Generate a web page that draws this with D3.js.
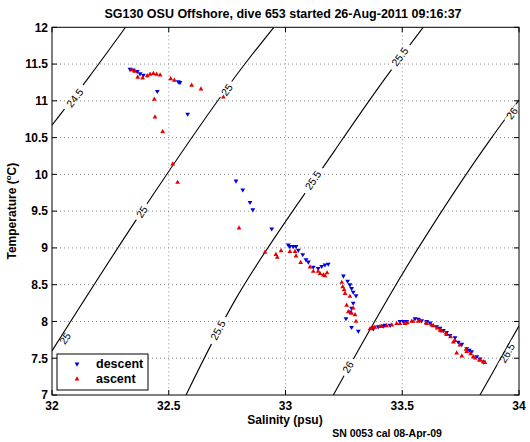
<!DOCTYPE html>
<html><head><meta charset="utf-8">
<script src="https://cdn.jsdelivr.net/npm/d3@7/dist/d3.min.js"></script>
<style>body{margin:0;background:#fff}svg{display:block}text{font-family:"Liberation Sans",Arial,Helvetica,sans-serif}</style>
</head><body><svg id="c" width="530" height="442"></svg>
<script>
const title = "SG130 OSU Offshore, dive 653 started 26\u2010Aug\u20102011 09:16:37";
const xTicks = [32, 32.5, 33, 33.5, 34];
const yTicks = [7, 7.5, 8, 8.5, 9, 9.5, 10, 10.5, 11, 11.5, 12];
const xTickLabels = ["32", "32.5", "33", "33.5", "34"];
const yTickLabels = ["7", "7.5", "8", "8.5", "9", "9.5", "10", "10.5", "11", "11.5", "12"];
const seriesNames = ["descent", "ascent"];
// descent (S, T)
const descentS = [32.334,32.348,32.365,32.377,32.391,32.451,32.541,32.548,32.581,32.788,32.817,32.848,32.860,32.941,33.012,33.019,33.033,33.045,33.055,33.074,33.088,33.098,33.119,33.140,33.155,33.169,33.183,33.248,33.266,33.276,33.283,33.290,33.302,33.290,33.283,33.276,33.259,33.283,33.312,33.376,33.397,33.419,33.448,33.490,33.519,33.555,33.583,33.619,33.647,33.676,33.704,33.726,33.755,33.776,33.797,33.819,33.847,
  33.426,33.505,33.569,33.605,33.662,33.690,33.740,33.787,33.833];
const descentT = [11.43,11.42,11.40,11.37,11.35,11.13,11.26,11.25,10.82,9.91,9.79,9.62,9.52,9.26,9.04,9.02,9.02,9.02,8.97,8.91,8.84,8.81,8.74,8.72,8.75,8.77,8.78,8.62,8.55,8.50,8.45,8.40,8.35,8.25,8.18,8.13,8.04,7.92,7.87,7.90,7.93,7.94,7.95,8.00,8.00,8.04,8.01,7.98,7.93,7.88,7.81,7.78,7.69,7.63,7.59,7.52,7.45,
  7.95,8.00,8.03,8.00,7.91,7.85,7.72,7.61,7.49];
// ascent (S, T)
const ascentS = [32.341,32.355,32.367,32.388,32.408,32.420,32.434,32.448,32.463,32.508,32.524,32.598,32.638,32.734,32.438,32.441,32.474,32.517,32.538,32.801,32.912,32.959,32.965,32.981,33.019,33.041,33.045,33.065,33.105,33.119,33.140,33.148,33.162,33.241,33.245,33.251,33.255,33.262,33.269,33.283,33.298,33.290,33.302,33.276,33.362,33.383,33.405,33.433,33.476,33.512,33.540,33.569,33.605,33.633,33.662,33.690,33.719,33.733,33.755,33.776,33.804,33.833,33.854,
  33.374,33.412,33.455,33.490,33.522,33.547,33.576,33.602,33.626,33.650,33.669,33.687,33.707,33.726,33.747,33.773,33.793,33.812,33.830,33.847,33.169,33.178];
const ascentT = [11.42,11.40,11.32,11.31,11.34,11.36,11.37,11.36,11.35,11.30,11.28,11.21,11.16,11.05,11.02,10.78,10.58,10.14,9.89,9.27,8.94,8.91,8.87,8.96,8.95,8.95,8.89,8.80,8.74,8.68,8.68,8.65,8.63,8.53,8.47,8.43,8.38,8.22,8.13,8.11,8.09,8.18,8.00,8.34,7.90,7.92,7.93,7.94,7.97,7.97,8.00,8.00,7.97,7.94,7.88,7.82,7.72,7.57,7.53,7.59,7.52,7.48,7.44,
  7.92,7.93,7.95,7.97,7.98,8.00,8.01,7.98,7.95,7.91,7.87,7.84,7.79,7.74,7.68,7.62,7.56,7.50,7.47,7.45,8.62,8.66];
// density contours (sigma-theta): [S, T] vertices
const contourLevels = ["24.5", "25", "25.5", "26", "26.5"];
const contour245 = [[32.315,12],[32.16,11.33],[32.0,10.67]];
const contour25 = [[32.95,12],[32.839,11.555],[32.39,9.52],[32.0,7.60]];
const contour255 = [[33.59,12],[33.405,11.21],[33.212,10.33],[32.784,8.29],[32.574,7]];
const contour26 = [[34,11.01],[33.876,10.47],[33.563,8.97],[33.205,7]];
const contour265 = [[34,7.94],[33.833,7]];
// contour label positions [level, S, T]
const labelLevels = ["24.5","25","25.5","25.5","26","25","26","26.5","25","25.5"];
const labelS = [32.098,32.749,33.490,33.118,33.970,32.056,33.268,33.949,32.385,32.711];
const labelT = [11.04,11.15,11.60,9.92,10.83,7.77,7.38,7.57,9.49,7.88];

const svg = d3.select("#c");
const L = 52, T0 = 27.3, W = 467, H = 367.7;
const x = d3.scaleLinear().domain([32, 34]).range([L, L + W]);
const y = d3.scaleLinear().domain([7, 12]).range([T0 + H, T0]);

// grid
const g = svg.append("g");
g.selectAll(".gx").data(xTicks.slice(1, -1)).join("line")
  .attr("x1", d => x(d)).attr("x2", d => x(d)).attr("y1", T0).attr("y2", T0 + H)
  .attr("stroke", "#8c8c8c").attr("stroke-width", 1).attr("stroke-dasharray", "1,3");
g.selectAll(".gy").data(yTicks.slice(1, -1)).join("line")
  .attr("y1", d => y(d)).attr("y2", d => y(d)).attr("x1", L).attr("x2", L + W)
  .attr("stroke", "#8c8c8c").attr("stroke-width", 1).attr("stroke-dasharray", "1,3");

// contours
svg.append("clipPath").attr("id", "pc").append("rect").attr("x", L).attr("y", T0).attr("width", W).attr("height", H);
const line = d3.line().x(d => x(d[0])).y(d => y(d[1])).curve(d3.curveMonotoneY);
const contours = [contour245, contour25, contour255, contour26, contour265];
const cg = svg.append("g").attr("clip-path", "url(#pc)");
cg.selectAll("path").data(contours).join("path")
  .attr("d", d => line([...d].sort((a, b) => a[1] - b[1])))
  .attr("fill", "none").attr("stroke", "#000").attr("stroke-width", 1.1);

// contour labels, rotated along the line
const levelIndex = {"24.5":0, "25":1, "25.5":2, "26":3, "26.5":4};
function angleAt(pts, s, t) {
  let best = 0, bd = 1e9;
  for (let i = 0; i < pts.length - 1; i++) {
    const mx = (x(pts[i][0]) + x(pts[i+1][0])) / 2, my = (y(pts[i][1]) + y(pts[i+1][1])) / 2;
    const dd = (mx - x(s)) ** 2 + (my - y(t)) ** 2;
    if (dd < bd) { bd = dd; best = i; }
  }
  const a = pts[best], b = pts[best + 1];
  let dx = x(b[0]) - x(a[0]), dy = y(b[1]) - y(a[1]);
  if (dx < 0) { dx = -dx; dy = -dy; }
  return Math.atan2(dy, dx) * 180 / Math.PI;
}
const lg = svg.append("g").attr("clip-path", "url(#pc)");
labelLevels.forEach((lv, i) => {
  const pts = contours[levelIndex[lv]];
  const ang = angleAt(pts, labelS[i], labelT[i]);
  const gg = lg.append("g").attr("transform", `translate(${x(labelS[i])},${y(labelT[i])}) rotate(${ang})`);
  const tw = lv.length * 5.6 + 8;
  gg.append("rect").attr("x", -tw / 2).attr("y", -2.5).attr("width", tw).attr("height", 5).attr("fill", "#fff");
  gg.append("text").attr("text-anchor", "middle").attr("dy", "0.35em")
    .attr("font-size", 10.5).attr("fill", "#000").text(lv);
});

// data points
const sym = d3.symbol().type(d3.symbolTriangle).size(10);
const pg = svg.append("g").attr("clip-path", "url(#pc)");
pg.selectAll(".d").data(d3.range(descentS.length)).join("path")
  .attr("d", sym).attr("fill", "#0000e6")
  .attr("transform", i => `translate(${x(descentS[i])},${y(descentT[i])}) rotate(180)`);
pg.selectAll(".a").data(d3.range(ascentS.length)).join("path")
  .attr("d", sym).attr("fill", "#e60000")
  .attr("transform", i => `translate(${x(ascentS[i])},${y(ascentT[i])})`);

// frame + ticks
svg.append("rect").attr("x", L).attr("y", T0).attr("width", W).attr("height", H)
  .attr("fill", "none").attr("stroke", "#000").attr("stroke-width", 1);
const tk = 5;
xTicks.forEach(v => {
  svg.append("line").attr("x1", x(v)).attr("x2", x(v)).attr("y1", T0 + H).attr("y2", T0 + H - tk).attr("stroke", "#000");
  svg.append("line").attr("x1", x(v)).attr("x2", x(v)).attr("y1", T0).attr("y2", T0 + tk).attr("stroke", "#000");
});
yTicks.forEach(v => {
  svg.append("line").attr("y1", y(v)).attr("y2", y(v)).attr("x1", L).attr("x2", L + tk).attr("stroke", "#000");
  svg.append("line").attr("y1", y(v)).attr("y2", y(v)).attr("x1", L + W).attr("x2", L + W - tk).attr("stroke", "#000");
});
svg.selectAll(".xl").data(xTicks).join("text")
  .attr("x", d => x(d)).attr("y", 410).attr("text-anchor", "middle")
  .attr("font-size", 12).attr("font-weight", "bold").text((d, i) => xTickLabels[i]);
svg.selectAll(".yl").data(yTicks).join("text")
  .attr("x", 48).attr("y", d => y(d) + 4.3).attr("text-anchor", "end")
  .attr("font-size", 12).attr("font-weight", "bold").text((d, i) => yTickLabels[i]);

// titles
svg.append("text").attr("x", 283).attr("y", 18).attr("text-anchor", "middle")
  .attr("font-size", 12.5).attr("font-weight", "bold").text(title);
svg.append("text").attr("x", 285).attr("y", 424).attr("text-anchor", "middle")
  .attr("font-size", 12).attr("font-weight", "bold").text("Salinity (psu)");
svg.append("text").attr("x", 387).attr("y", 437).attr("text-anchor", "middle")
  .attr("font-size", 10.5).attr("font-weight", "bold").text("SN 0053 cal 08\u2010Apr\u201009");
const yt = svg.append("text").attr("transform", `translate(16,${T0 + H / 2}) rotate(-90)`)
  .attr("text-anchor", "middle").attr("font-size", 12).attr("font-weight", "bold");
yt.append("tspan").text("Temperature (");
yt.append("tspan").attr("font-size", 8).attr("dy", -5).text("o");
yt.append("tspan").attr("dy", 5).text("C)");

// legend
const lgd = svg.append("g");
lgd.append("rect").attr("x", 57).attr("y", 354).attr("width", 91).attr("height", 36)
  .attr("fill", "#fff").attr("stroke", "#000").attr("stroke-width", 1);
lgd.append("path").attr("d", sym).attr("fill", "#0000e6").attr("transform", "translate(77,364) rotate(180)");
lgd.append("path").attr("d", sym).attr("fill", "#e60000").attr("transform", "translate(77,379)");
lgd.append("text").attr("x", 96).attr("y", 368).attr("font-size", 12.5).attr("font-weight", "bold").text(seriesNames[0]);
lgd.append("text").attr("x", 96).attr("y", 383).attr("font-size", 12.5).attr("font-weight", "bold").text(seriesNames[1]);
</script></body></html>
